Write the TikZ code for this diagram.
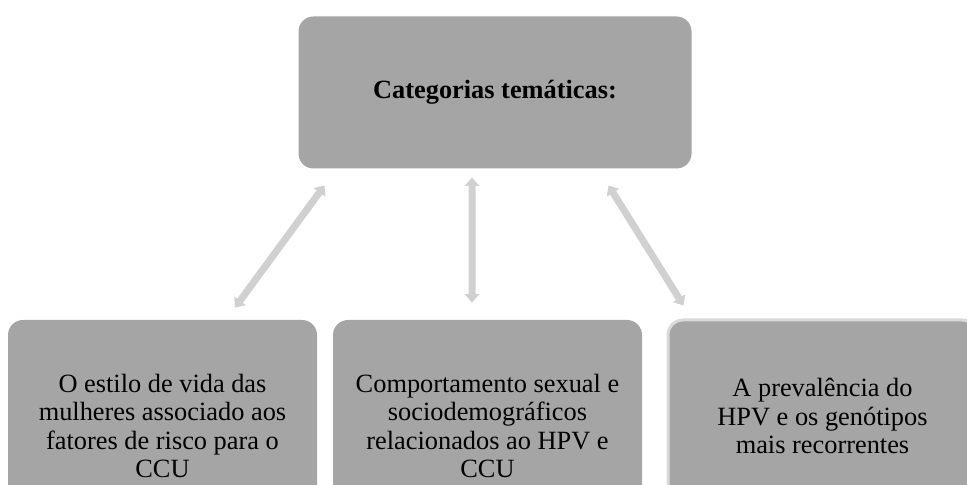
\documentclass[tikz,border=0pt]{standalone}
\usepackage{fontspec}
\setmainfont{Liberation Serif}
\usetikzlibrary{arrows.meta,calc}
\definecolor{caixacinza}{RGB}{165,165,165}
\definecolor{setacinza}{RGB}{208,208,208}
\definecolor{bordacinza}{RGB}{218,218,218}
\begin{document}
\begin{tikzpicture}[
  caixa/.style={fill=caixacinza, rounded corners=0.3cm, align=center,
                minimum width=6.18cm, inner sep=0pt,
                font=\fontsize{15}{16.2}\selectfont},
  seta/.style={setacinza, line width=0.14cm,
               {Triangle[width=0.28cm,length=0.17cm]}-{Triangle[width=0.28cm,length=0.17cm]}}
]
\useasboundingbox (0,0) rectangle (19.34,9.7);
%\draw [lightgray](0,0) grid (19,9);

\node [caixa, minimum width=7.88cm, minimum height=3.06cm, draw=white, line width=0.02cm]
  (cat) at (9.9,7.85) {\textbf{Categorias temáticas:}};

\node [caixa, minimum height=4.24cm] (estilo) at (3.25,1.18)
  {O estilo de vida das\\ mulheres associado aos\\ fatores de risco para o\\ CCU};
\node [caixa, minimum height=4.24cm] (comport) at (9.75,1.18)
  {Comportamento sexual e\\ sociodemográficos\\ relacionados ao HPV e\\ CCU};
\node [caixa, minimum height=3.84cm, draw=bordacinza, line width=0.06cm] (preval) at (16.45,1.38)
  {A prevalência do\\ HPV e os genótipos\\ mais recorrentes};

\draw [seta] ($(estilo.north)+(1.45,0.24)$) -- ($(cat.south west)+(0.54,-0.32)$);
\draw [seta] ($(comport.north)+(-0.31,0.34)$) -- ($(cat.south)+(-0.46,-0.16)$);
\draw [seta] ($(preval.north west)+(0.34,0.26)$) -- ($(cat.south east)+(-1.68,-0.32)$);
\end{tikzpicture}
\end{document}
